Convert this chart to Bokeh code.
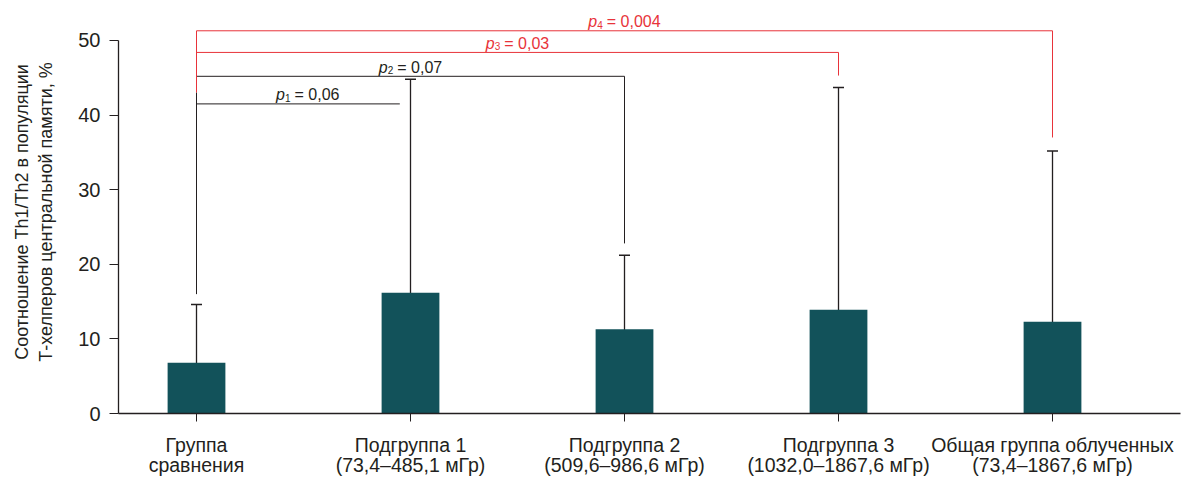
from bokeh.plotting import figure
from bokeh.models import ColumnDataSource, Whisker, TeeHead, FixedTicker, Range1d
from bokeh.core.properties import value
from bokeh.embed import file_html
from bokeh.resources import INLINE

# ---- data ----
categories = ["Группа\nсравнения",
              "Подгруппа 1\n(73,4–485,1 мГр)",
              "Подгруппа 2\n(509,6–986,6 мГр)",
              "Подгруппа 3\n(1032,0–1867,6 мГр)",
              "Общая группа облученных\n(73,4–1867,6 мГр)"]
means = [6.8, 16.2, 11.3, 13.9, 12.3]
lower = [3.2, 7.0, 6.3, 9.5, 7.8]
upper = [14.6, 44.8, 21.2, 43.7, 35.2]
y_ticks = [0, 10, 20, 30, 40, 50]

# comparisons: group 0 vs group k
p_index = ["1", "2", "3", "4"]
p_text = ["= 0,06", "= 0,07", "= 0,03", "= 0,004"]
p_target = [0.95, 2, 3, 4]
p_level = [41.5, 45.2, 48.4, 51.3]
p_drop_to = [41.5, 22.8, 45.3, 37.0]
p_left_bottom = 16.0

BAR = "#12525a"
INK = "#231f20"
RED = "#e8333a"
FONT = "Liberation Sans"

x = list(range(len(categories)))

p = figure(width=1187, height=480, output_backend="svg", toolbar_location=None,
           x_range=Range1d(-0.3645, -0.3645 + 1062 / 214),
           y_range=Range1d(0, 54.02),
           min_border_left=118, min_border_right=7, min_border_top=10, min_border_bottom=67)
p.outline_line_color = None
p.grid.visible = False
p.background_fill_color = "white"

src = ColumnDataSource(dict(x=x, top=means, lower=lower, upper=upper))
p.vbar(x="x", top="top", bottom=0, width=0.27, source=src, fill_color=BAR, line_color=None)

wh = Whisker(base="x", lower="lower", upper="upper", source=src,
             line_color=INK, line_width=1.3,
             upper_head=TeeHead(size=11, line_color=INK, line_width=1.5),
             lower_head=TeeHead(size=11, line_color=INK, line_width=1.5))
p.add_layout(wh)

# brackets
colors = [INK, INK, RED, RED]
for i in range(4):
    c = colors[i]
    p.segment(x0=[0], y0=[p_level[i]], x1=[p_target[i]], y1=[p_level[i]], line_color=c, line_width=1)
    if p_drop_to[i] != p_level[i]:
        p.segment(x0=[p_target[i]], y0=[p_level[i]], x1=[p_target[i]], y1=[p_drop_to[i]],
                  line_color=c, line_width=1)
# left shared vertical
p.segment(x0=[0], y0=[p_level[3]], x1=[0], y1=[43.0], line_color=RED, line_width=1)
p.segment(x0=[0], y0=[43.0], x1=[0], y1=[p_left_bottom], line_color=INK, line_width=1)

# p labels
fs = 16
cw = {",": .278, " ": .278, "=": .584}
for i in range(4):
    c = colors[i]
    mid = p_target[i] / 2 if i > 0 else 0.52
    wp = 0.556 * fs
    ws = 0.556 * 10 + 4
    wr = sum(cw.get(ch, .556) for ch in p_text[i]) * fs
    L = -(wp + ws + wr) / 2
    p.text(x=[mid], y=[p_level[i]], text=["p"], x_offset=L, y_offset=-9,
           text_font=value(FONT), text_font_style="italic", text_font_size=f"{fs}px",
           text_color=c, text_align="left", text_baseline="alphabetic")
    p.text(x=[mid], y=[p_level[i]], text=[p_index[i]], x_offset=L + wp, y_offset=-6,
           text_font=value(FONT), text_font_size="10px",
           text_color=c, text_align="left", text_baseline="alphabetic")
    p.text(x=[mid], y=[p_level[i]], text=[p_text[i]], x_offset=L + wp + ws, y_offset=-9,
           text_font=value(FONT), text_font_size=f"{fs}px",
           text_color=c, text_align="left", text_baseline="alphabetic")

# axes
xa = p.xaxis[0]
xa.ticker = FixedTicker(ticks=x)
xa.major_label_overrides = {i: categories[i] for i in x}
xa.minor_tick_line_color = None
xa.major_tick_in = 0
xa.major_tick_out = 8
xa.axis_line_color = INK
xa.major_tick_line_color = INK
xa.axis_line_width = 1.3
xa.major_label_text_font = FONT
xa.major_label_text_font_size = "19.5px"
xa.major_label_text_line_height = 0.93
xa.major_label_text_color = INK
xa.major_label_standoff = 12

ya = p.yaxis[0]
ya.ticker = FixedTicker(ticks=y_ticks)
ya.bounds = (0, 50)
ya.minor_tick_line_color = None
ya.major_tick_in = 0
ya.major_tick_out = 9
ya.axis_line_color = INK
ya.major_tick_line_color = INK
ya.axis_line_width = 1.3
ya.major_label_text_font = FONT
ya.major_label_text_font_size = "20px"
ya.major_label_text_color = INK
ya.major_label_standoff = 9
ya.axis_label = "Соотношение Th1/Th2 в популяции\nТ-хелперов центральной памяти, %"
ya.axis_label_text_font = FONT
ya.axis_label_text_font_size = "18px"
ya.axis_label_text_font_style = "normal"
ya.axis_label_text_color = INK
ya.axis_label_standoff = 19

open("out.html", "w").write(file_html(p, INLINE))
